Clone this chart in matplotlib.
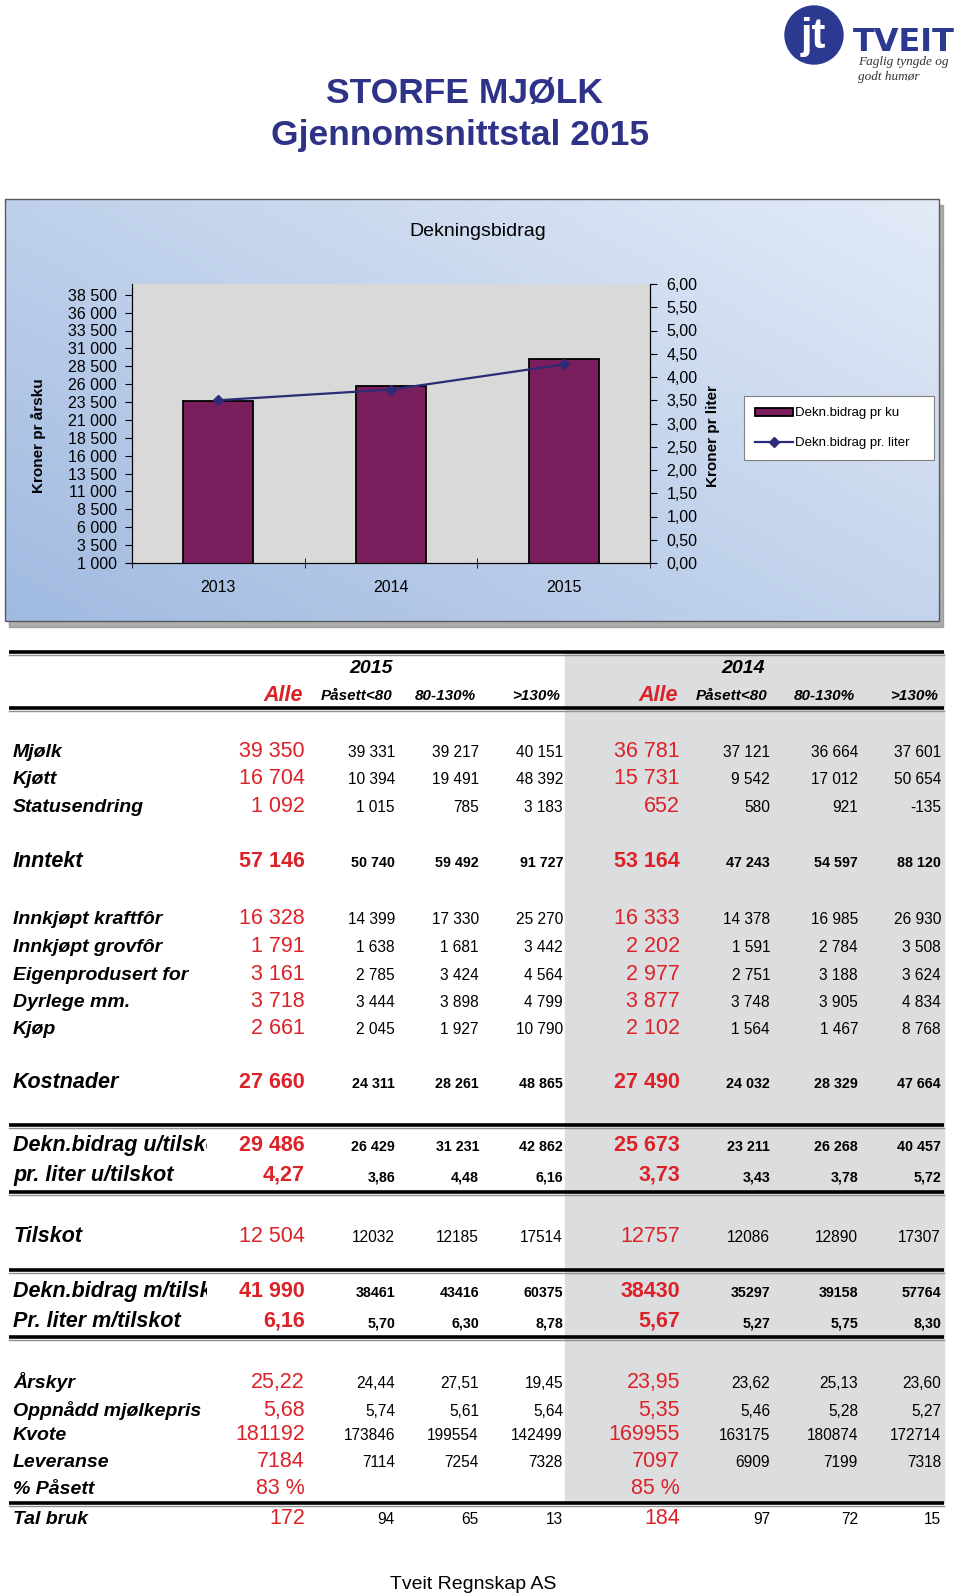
import numpy as np
import matplotlib
matplotlib.use('Agg')
import matplotlib.pyplot as plt
from matplotlib.patches import Rectangle, Circle
from matplotlib.ticker import FixedLocator, FuncFormatter
from matplotlib.transforms import Bbox, TransformedBbox

plt.rcParams['font.family'] = ['Liberation Sans', 'DejaVu Sans']

# ---- chart data -------------------------------------------------------------
years = ['2013', '2014', '2015']
db_pr_ku = [23600, 25673, 29486]
db_pr_liter = [3.50, 3.73, 4.27]

# ---- table data -------------------------------------------------------------
row_labels = ['Mjølk', 'Kjøtt', 'Statusendring', 'Inntekt',
              'Innkjøpt kraftfôr', 'Innkjøpt grovfôr', 'Eigenprodusert for',
              'Dyrlege mm.', 'Kjøp', 'Kostnader',
              'Dekn.bidrag u/tilskot', 'pr. liter u/tilskot', 'Tilskot',
              'Dekn.bidrag m/tilskot', 'Pr. liter m/tilskot',
              'Årskyr', 'Oppnådd mjølkepris', 'Kvote', 'Leveranse', '% Påsett',
              'Tal bruk']
alle_2015 = ['39 350', '16 704', '1 092', '57 146', '16 328', '1 791', '3 161',
             '3 718', '2 661', '27 660', '29 486', '4,27', '12 504', '41 990',
             '6,16', '25,22', '5,68', '181192', '7184', '83 %', '172']
paasett_2015 = ['39 331', '10 394', '1 015', '50 740', '14 399', '1 638', '2 785',
                '3 444', '2 045', '24 311', '26 429', '3,86', '12032', '38461',
                '5,70', '24,44', '5,74', '173846', '7114', '', '94']
mid_2015 = ['39 217', '19 491', '785', '59 492', '17 330', '1 681', '3 424',
            '3 898', '1 927', '28 261', '31 231', '4,48', '12185', '43416',
            '6,30', '27,51', '5,61', '199554', '7254', '', '65']
high_2015 = ['40 151', '48 392', '3 183', '91 727', '25 270', '3 442', '4 564',
             '4 799', '10 790', '48 865', '42 862', '6,16', '17514', '60375',
             '8,78', '19,45', '5,64', '142499', '7328', '', '13']
alle_2014 = ['36 781', '15 731', '652', '53 164', '16 333', '2 202', '2 977',
             '3 877', '2 102', '27 490', '25 673', '3,73', '12757', '38430',
             '5,67', '23,95', '5,35', '169955', '7097', '85 %', '184']
paasett_2014 = ['37 121', '9 542', '580', '47 243', '14 378', '1 591', '2 751',
                '3 748', '1 564', '24 032', '23 211', '3,43', '12086', '35297',
                '5,27', '23,62', '5,46', '163175', '6909', '', '97']
mid_2014 = ['36 664', '17 012', '921', '54 597', '16 985', '2 784', '3 188',
            '3 905', '1 467', '28 329', '26 268', '3,78', '12890', '39158',
            '5,75', '25,13', '5,28', '180874', '7199', '', '72']
high_2014 = ['37 601', '50 654', '-135', '88 120', '26 930', '3 508', '3 624',
             '4 834', '8 768', '47 664', '40 457', '5,72', '17307', '57764',
             '8,30', '23,60', '5,27', '172714', '7318', '', '15']
year_headers = ['2015', '2014']
col_headers = ['Påsett<80', '80-130%', '>130%']

# ---- layout / style ---------------------------------------------------------
navy = '#2e3388'
red = '#dc2229'
purple = '#7b1e5e'
line_col = '#2b2b78'
band = '#dcdddf'

row_base = [757, 784, 812, 867, 924, 952, 980, 1007, 1034, 1088,
            1151, 1181, 1242, 1297, 1327, 1388, 1416, 1440, 1467, 1494, 1524]
bold_rows = {3, 9, 10, 11, 13, 14}
big_label_rows = {3, 9, 10, 11, 12, 13, 14}
clipped_rows = {10, 13}
col_right = [305, 395, 479, 563, 680, 770, 858, 941]
rule_y = [652, 708, 1125, 1192, 1270, 1337, 1503]

fig = plt.figure(figsize=(9.6, 15.96), dpi=100)
canvas = fig.add_axes([0, 0, 1, 1])

# chart frame with gradient
gx, gy = np.meshgrid(np.linspace(0, 1, 200), np.linspace(0, 1, 100))
t = np.clip(0.55 * gx + 0.45 * (1 - gy), 0, 1)
dark = np.array([0.63, 0.73, 0.88])
light = np.array([0.89, 0.92, 0.97])
img = dark + (light - dark) * t[..., None]
canvas.add_patch(Rectangle((9, 205), 934, 422, color='#8a8a8a', alpha=0.7, zorder=0))
canvas.imshow(img, extent=(5, 939, 621, 199), aspect='auto', zorder=1,
              interpolation='bilinear')
canvas.add_patch(Rectangle((5, 199), 934, 422, fill=False, edgecolor='#5a5a5a',
                           lw=1, zorder=2))
canvas.set_xlim(0, 960)
canvas.set_ylim(1596, 0)
canvas.axis('off')

# titles
canvas.text(464, 103, 'STORFE MJØLK', ha='center', va='baseline',
            fontsize=25.5, fontweight='bold', color=navy)
canvas.text(460, 145, 'Gjennomsnittstal 2015', ha='center', va='baseline',
            fontsize=25.5, fontweight='bold', color=navy)
canvas.text(478, 231, 'Dekningsbidrag', ha='center', va='center', fontsize=14,
            zorder=3)

# logo
canvas.add_patch(Circle((814, 35), 29, color='#2b3990', zorder=3))
canvas.text(813, 37, 'jt', ha='center', va='center', fontsize=30,
            fontweight='bold', color='white', zorder=4)
canvas.text(853, 51, 'TVEIT', ha='left', va='baseline', fontsize=23,
            fontweight='bold', color='#2b3990', family='DejaVu Sans')
canvas.text(858, 62, 'Faglig tyngde og', ha='left', va='center', fontsize=9.5,
            style='italic', family='Liberation Serif', color='#333333')
canvas.text(858, 77, 'godt humør', ha='left', va='center', fontsize=9.5,
            style='italic', family='Liberation Serif', color='#333333')

# table background and rules
canvas.add_patch(Rectangle((565, rule_y[0]), 944 - 565, rule_y[-1] - rule_y[0],
                           color=band, zorder=0))
for y in rule_y:
    canvas.plot([9, 944], [y + 2.5, y + 2.5], color='#909090', lw=1, zorder=1)
    canvas.plot([9, 944], [y, y], color='black', lw=2.6, zorder=2,
                solid_capstyle='butt')

# headers
for k, yr in enumerate(year_headers):
    canvas.text([371, 743][k], 673, yr, ha='center', va='baseline',
                fontsize=14, fontweight='bold', style='italic')
    canvas.text(col_right[4 * k] - 2, 701, 'Alle', ha='right', va='baseline',
                fontsize=15.5, fontweight='bold', style='italic', color=red)
    for j, h in enumerate(col_headers):
        canvas.text(col_right[4 * k + 1 + j] - 3, 700, h, ha='right',
                    va='baseline', fontsize=11, fontweight='bold', style='italic')

# rows
columns = [alle_2015, paasett_2015, mid_2015, high_2015,
           alle_2014, paasett_2014, mid_2014, high_2014]
label_clip = TransformedBbox(Bbox([[0, 0], [207, 1596]]), canvas.transData)
for i, lab in enumerate(row_labels):
    yb = row_base[i]
    txt = canvas.text(13, yb, lab, ha='left', va='baseline',
                      fontsize=15.5 if i in big_label_rows else 14,
                      fontweight='bold', style='italic')
    if i in clipped_rows:
        txt.set_clip_box(label_clip)
        txt.set_clip_on(True)
    weight = 'bold' if i in bold_rows else 'normal'
    for c, col in enumerate(columns):
        if c in (0, 4):
            canvas.text(col_right[c], yb, col[i], ha='right', va='baseline',
                        fontsize=15.5, fontweight=weight, color=red)
        else:
            canvas.text(col_right[c], yb, col[i], ha='right', va='baseline',
                        fontsize=10.3 if i in bold_rows else 11.2,
                        fontweight=weight)

canvas.text(473, 1589, 'Tveit Regnskap AS', ha='center', va='baseline',
            fontsize=14)

# ---- chart ------------------------------------------------------------------
ax1 = fig.add_axes([132 / 960, 1 - 563 / 1596, 518 / 960, 279 / 1596])
ax1.set_facecolor('#d9d9d9')
x = np.arange(len(years))
bars = ax1.bar(x, db_pr_ku, width=0.405, color=purple, edgecolor='black',
               lw=1.3, label='Dekn.bidrag pr ku', zorder=2)
ax1.set_xlim(-0.5, 2.5)
ax1.set_ylim(1000, 40000)
ax1.yaxis.set_major_locator(FixedLocator(np.arange(1000, 40000, 2500)))
ax1.yaxis.set_major_formatter(FuncFormatter(lambda v, p: f'{int(v):,}'.replace(',', ' ')))
ax1.set_xticks(x)
ax1.set_xticklabels(years)
ax1.xaxis.set_minor_locator(FixedLocator([-0.5, 0.5, 1.5, 2.5]))
ax1.tick_params(axis='x', which='major', length=0, pad=12, labelsize=11.5)
ax1.tick_params(axis='x', which='minor', length=7, direction='inout')
ax1.tick_params(axis='y', length=5, direction='out', pad=6, labelsize=11.5)
ax1.set_ylabel('Kroner pr årsku', fontsize=11, fontweight='bold')
ax1.yaxis.set_label_coords((46 - 132) / 518, 0.455)
ax1.spines['top'].set_visible(False)

ax2 = ax1.twinx()
line, = ax2.plot(x, db_pr_liter, color=line_col, lw=1.6, marker='D',
                 markersize=5.5, label='Dekn.bidrag pr. liter', zorder=3)
ax2.set_ylim(0, 6)
ax2.yaxis.set_major_locator(FixedLocator(np.arange(0, 6.01, 0.5)))
ax2.yaxis.set_major_formatter(FuncFormatter(lambda v, p: f'{v:.2f}'.replace('.', ',')))
ax2.tick_params(axis='y', length=5, direction='out', pad=7, labelsize=11.5)
ax2.set_ylabel('Kroner pr liter', fontsize=11, fontweight='bold', rotation=90)
ax2.yaxis.set_label_coords((706 - 132) / 518, 0.455)
ax2.spines['top'].set_visible(False)

leg = ax2.legend(handles=[bars, line], loc='upper left',
                 bbox_to_anchor=(744 / 960, 1 - 457 / 1596, 190 / 960, 61 / 1596),
                 bbox_transform=fig.transFigure, mode='expand', borderaxespad=0,
                 fontsize=9.5, frameon=True, fancybox=False, framealpha=1,
                 edgecolor='#808080', borderpad=0.85, labelspacing=1.35,
                 handlelength=2.9, handleheight=0.55, handletextpad=0.15)
leg.get_frame().set_linewidth(0.8)
leg._legend_box.align = 'left'

fig.savefig('out.png', dpi=100)
